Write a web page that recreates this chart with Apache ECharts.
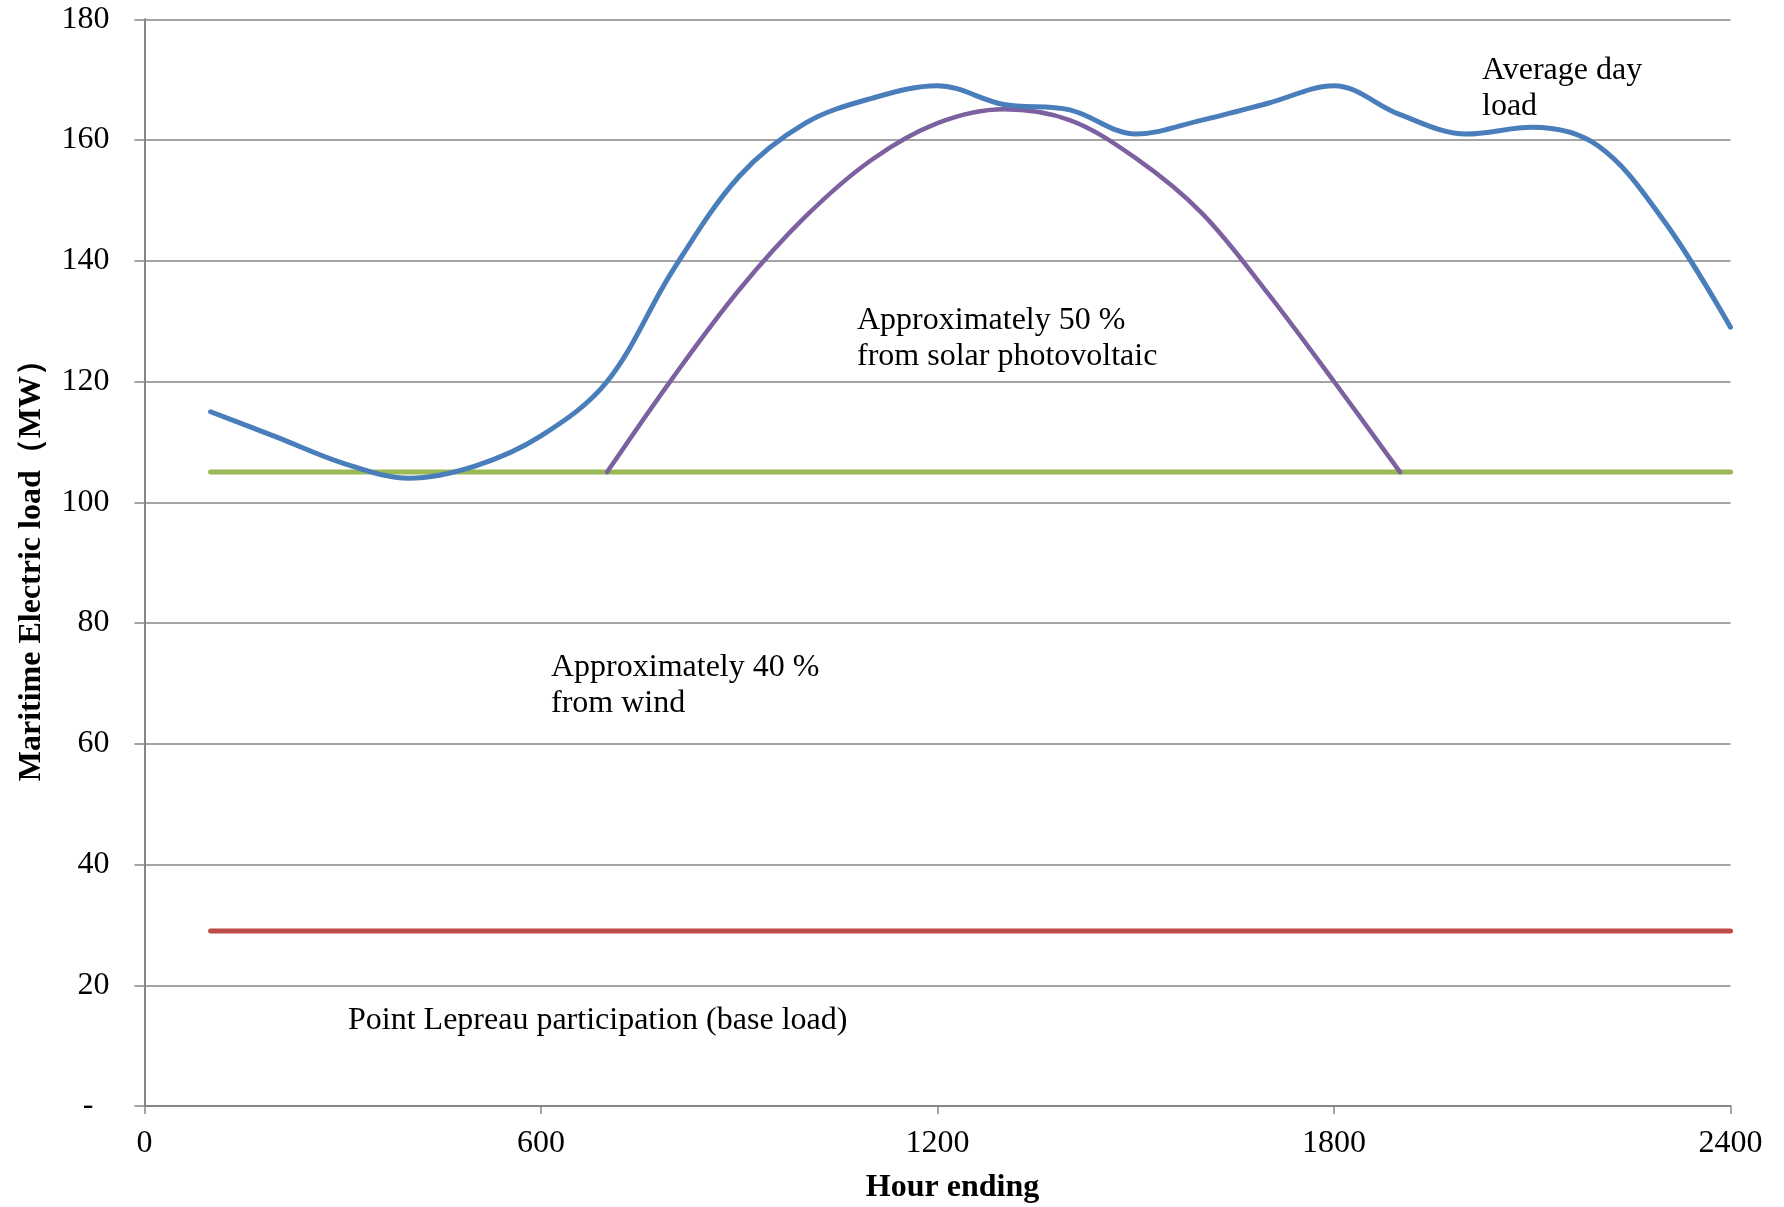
<!DOCTYPE html>
<html>
<head>
<meta charset="utf-8">
<script src="https://cdn.jsdelivr.net/npm/echarts@6/dist/echarts.min.js"></script>
<style>
  html, body { margin: 0; padding: 0; background: #fff; }
  #chart { width: 1784px; height: 1207px; }
</style>
</head>
<body>
<div id="chart"></div>
<script>
// hour ending (x values)
var hours = [100, 200, 300, 400, 500, 600, 700, 800, 900, 1000, 1100, 1200,
  1300, 1400, 1500, 1600, 1700, 1800, 1900, 2000, 2100, 2200, 2300, 2400]
// average day load, MW
var dayLoad = [115, 110.8, 106.5, 104, 106, 111, 120, 138.5, 154, 162.8, 166.9, 169,
  165.9, 165, 161, 163.3, 166.1, 169, 164.2, 161, 162.1, 159, 146.5, 129]
// solar band, hours 700..1900
var solarHours = [700, 800, 900, 1000, 1100, 1200, 1300, 1400, 1500, 1600, 1700, 1800, 1900]
var solarLoad = [105, 120.7, 135.2, 147.3, 156.7, 162.8, 165.1, 163.3, 157, 147.9, 134.6, 120, 105]
// flat levels
var windLevel = [105, 105, 105, 105, 105, 105, 105, 105, 105, 105, 105, 105,
  105, 105, 105, 105, 105, 105, 105, 105, 105, 105, 105, 105]
var baseLevel = [29, 29, 29, 29, 29, 29, 29, 29, 29, 29, 29, 29,
  29, 29, 29, 29, 29, 29, 29, 29, 29, 29, 29, 29]

var xTicks = [0, 600, 1200, 1800, 2400]
var yTicks = [0, 20, 40, 60, 80, 100, 120, 140, 160, 180]

function pairs(xs, ys) {
  return xs.map(function (x, i) { return [x, ys[i]] })
}

var serif = "'Liberation Serif', 'Times New Roman', serif"
var gray = '#868686'

var chart = echarts.init(document.getElementById('chart'))
chart.setOption({
  animation: false,
  backgroundColor: '#fff',
  textStyle: { fontFamily: serif },
  grid: { left: 144.5, right: 53.5, top: 19.3, bottom: 101, outerBoundsMode: 'none' },
  xAxis: {
    type: 'value',
    min: xTicks[0],
    max: xTicks[xTicks.length - 1],
    interval: 600,
    name: 'Hour ending',
    nameLocation: 'middle',
    nameGap: 66,
    nameTextStyle: { fontFamily: serif, fontSize: 32, fontWeight: 'bold', color: '#000', padding: [0, 0, 0, 30] },
    axisLine: { lineStyle: { color: gray, width: 2 } },
    axisTick: { show: true, length: 8, lineStyle: { color: gray, width: 1.5 } },
    axisLabel: {
      fontFamily: serif, fontSize: 32, color: '#000', margin: 22,
      formatter: function (v) { return String(v) }
    },
    splitLine: { show: false }
  },
  yAxis: {
    type: 'value',
    min: yTicks[0],
    max: yTicks[yTicks.length - 1],
    interval: 20,
    name: 'Maritime Electric load（MW）',
    nameLocation: 'middle',
    nameRotate: 90,
    nameGap: 97,
    nameTextStyle: { fontFamily: serif, fontSize: 32, fontWeight: 'bold', color: '#000' },
    axisLine: { show: true, lineStyle: { color: gray, width: 2 } },
    axisTick: { show: true, length: 10, lineStyle: { color: gray, width: 1.5 } },
    axisLabel: {
      fontFamily: serif, fontSize: 32, color: '#000', margin: 35,
      formatter: function (v) { return v === 0 ? '-  ' : String(v) }
    },
    splitLine: { show: true, lineStyle: { color: gray, width: 1.5 } }
  },
  series: [
    {
      name: 'Point Lepreau',
      type: 'line',
      data: pairs(hours, baseLevel),
      showSymbol: false,
      lineStyle: { color: '#BE4B48', width: 5, cap: 'round' }
    },
    {
      name: 'Wind',
      type: 'line',
      data: pairs(hours, windLevel),
      showSymbol: false,
      lineStyle: { color: '#98B954', width: 5, cap: 'round' }
    },
    {
      name: 'Solar',
      type: 'line',
      data: pairs(solarHours, solarLoad),
      smooth: 0.35,
      showSymbol: false,
      lineStyle: { color: '#7D60A0', width: 4.5, cap: 'round' }
    },
    {
      name: 'Average day load',
      type: 'line',
      data: pairs(hours, dayLoad),
      smooth: 0.35,
      showSymbol: false,
      lineStyle: { color: '#4A7EBB', width: 5, cap: 'round' }
    }
  ],
  graphic: [
    {
      type: 'text', left: 1482, top: 52,
      style: { text: 'Average day\nload', font: '32px ' + serif, fill: '#000', lineHeight: 36.5 }
    },
    {
      type: 'text', left: 857, top: 302,
      style: { text: 'Approximately 50 %\nfrom solar photovoltaic', font: '32px ' + serif, fill: '#000', lineHeight: 36.5 }
    },
    {
      type: 'text', left: 551, top: 649,
      style: { text: 'Approximately 40 %\nfrom wind', font: '32px ' + serif, fill: '#000', lineHeight: 36.5 }
    },
    {
      type: 'text', left: 348, top: 1002,
      style: { text: 'Point Lepreau participation (base load)', font: '32px ' + serif, fill: '#000', lineHeight: 36.5 }
    }
  ]
})
</script>
</body>
</html>
